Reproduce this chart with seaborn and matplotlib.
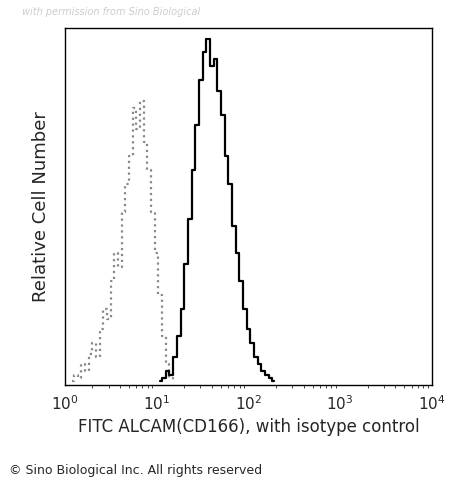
import numpy as np
import pandas as pd
import seaborn as sns
import matplotlib.pyplot as plt

# histogram counts (% of max) per 0.04 log10 bin
gray_start = 0.08
gray_counts = [1, 3, 2, 6, 4, 9, 12, 8, 16, 22, 19, 30, 38, 34, 50, 58, 66, 80, 74,
               82, 70, 62, 50, 38, 26, 14, 6, 2, 1]
black_start = 1.04
black_counts = [1, 2, 4, 3, 8, 14, 22, 35, 48, 62, 75, 88, 96, 100, 92, 94, 85, 78,
                66, 58, 46, 38, 30, 22, 16, 12, 8, 6, 4, 3, 2, 1]

def to_df(start, counts):
    logs = start + 0.04 * np.arange(len(counts))
    return pd.DataFrame({"x": 10 ** logs, "y": counts})

sns.set_style("white")
fig = plt.figure(figsize=(4.5, 4.86), dpi=100)
ax = fig.add_axes([0.144, 0.208, 0.816, 0.734])

sns.lineplot(data=to_df(gray_start, gray_counts), x="x", y="y", ax=ax,
             color="#888888", lw=1.6, ls=":", drawstyle="steps-mid")
sns.lineplot(data=to_df(black_start, black_counts), x="x", y="y", ax=ax,
             color="black", lw=1.6, drawstyle="steps-mid")

ax.set_xscale("log")
ax.set_xlim(1, 1e4)
ax.set_ylim(0, 103)
ax.set_yticks(np.arange(0, 101, 12.5))
ax.set_yticklabels([])
for s in ax.spines.values():
    s.set_color("black")
    s.set_linewidth(1)
ax.tick_params(axis="both", direction="out", length=3, color="black", labelsize=11)
ax.tick_params(axis="x", which="minor", length=2, bottom=True)
ax.set_xlabel("FITC ALCAM(CD166), with isotype control", fontsize=12)
ax.set_ylabel("Relative Cell Number", fontsize=13)

fig.text(0.05, 0.985, "with permission from Sino Biological", fontsize=7,
         style="italic", color="#cccccc", va="top")
fig.text(0.02, 0.025, "© Sino Biological Inc. All rights reserved", fontsize=9)

fig.savefig("out.png", dpi=100)
